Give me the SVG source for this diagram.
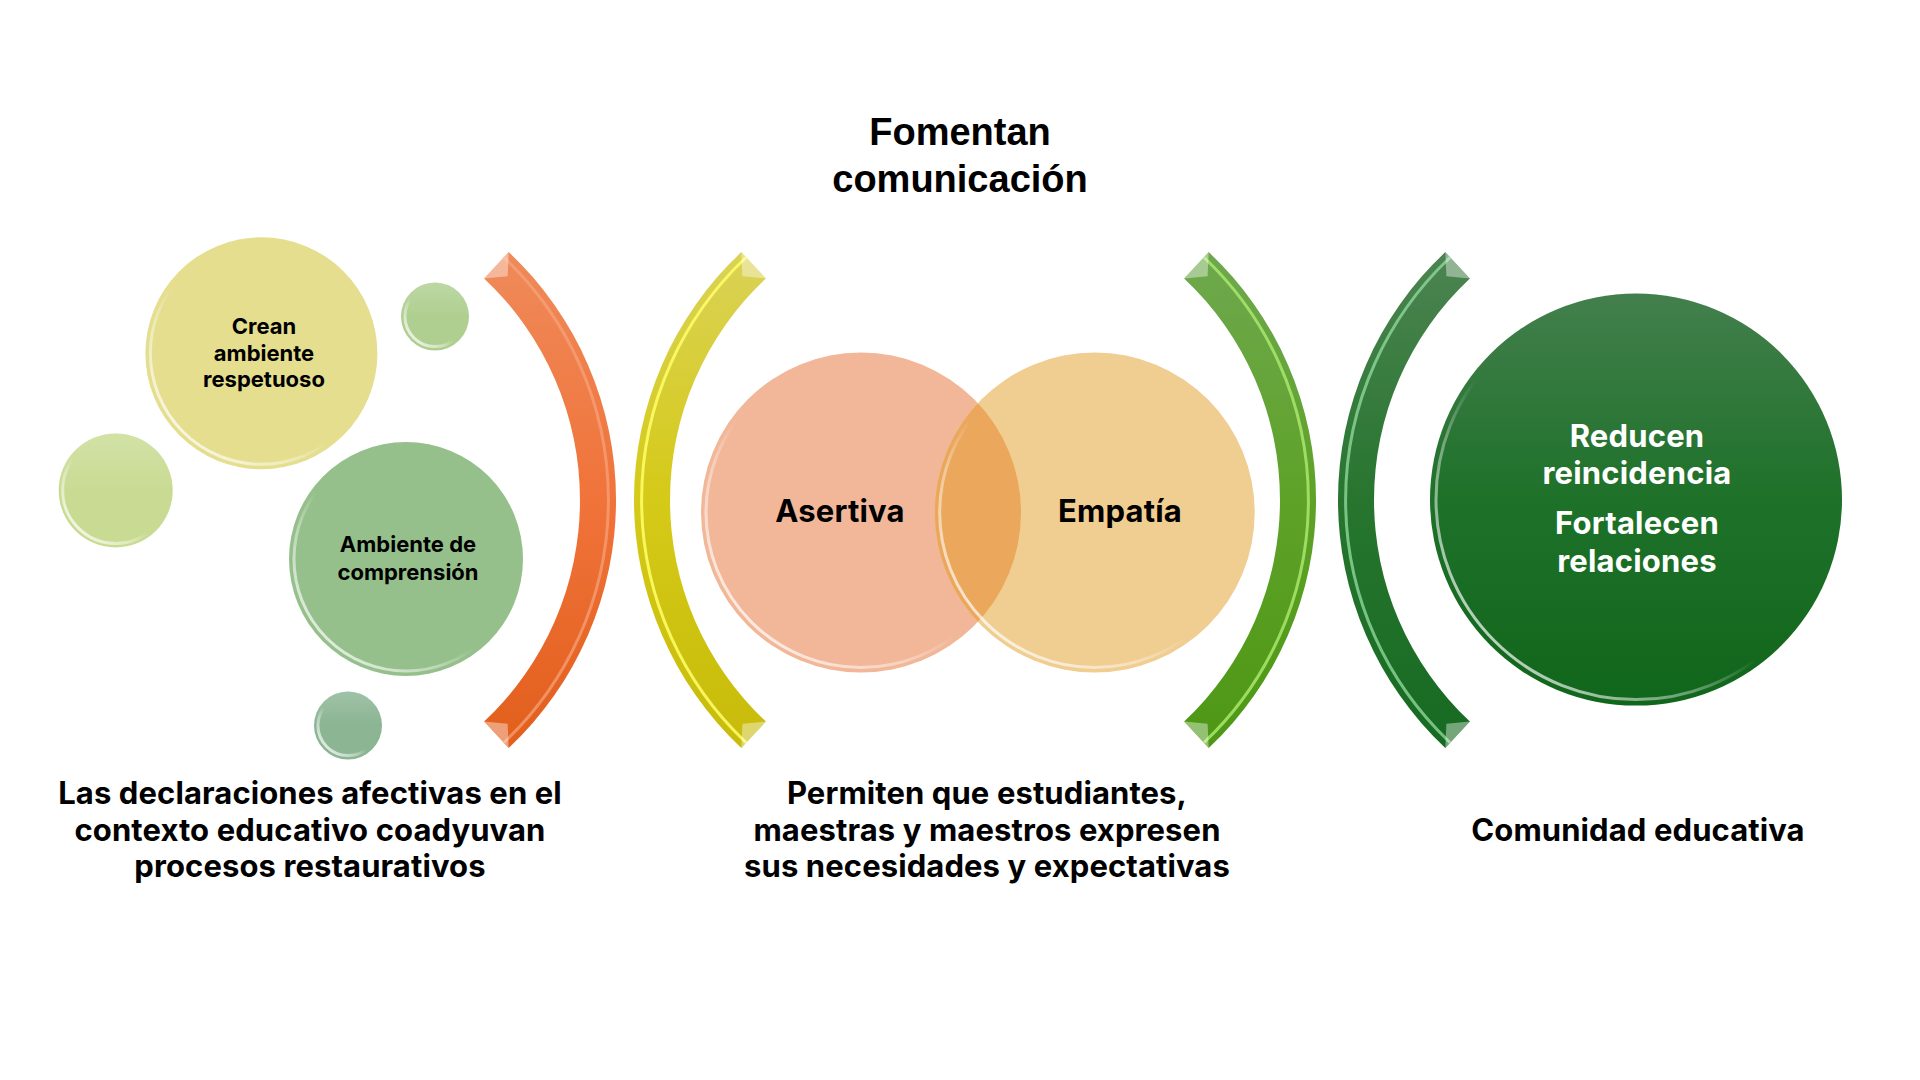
<svg xmlns="http://www.w3.org/2000/svg" width="1920" height="1080" viewBox="0 0 1920 1080">
  <defs>
    <style>
      .lbl { font-family: "Inter", "Liberation Sans", sans-serif; font-weight: 700; fill: #000; text-anchor: middle; }
      .title { font-family: "Liberation Sans", "Arial", sans-serif; font-weight: 700; font-size: 38px; fill: #000; text-anchor: middle; }
      .small { font-size: 22px; }
      .mid { font-size: 31px; letter-spacing: 0.2px; }
      .big { font-size: 31px; letter-spacing: 0.1px; }
      .white { fill: #fff; }
      .rim { fill: none; stroke: url(#rimGrad); stroke-width: 3; }
      .gloss { fill: url(#glossGrad); }
      .bevel { fill: #fff; opacity: 0.4; }
      .edge { fill: none; stroke-width: 3; stroke-linecap: round; }
    </style>
    <!-- soft white edge light on the lower-left of each bubble -->
    <linearGradient id="rimGrad" x1="0" y1="1" x2="0.75" y2="0.25">
      <stop offset="0" stop-color="#fff" stop-opacity="0.95"/>
      <stop offset="0.45" stop-color="#fff" stop-opacity="0.35"/>
      <stop offset="0.6" stop-color="#fff" stop-opacity="0"/>
    </linearGradient>
    <linearGradient id="glossGrad" x1="0" y1="0" x2="0" y2="1">
      <stop offset="0" stop-color="#fff" stop-opacity="0.18"/>
      <stop offset="0.5" stop-color="#fff" stop-opacity="0"/>
    </linearGradient>
    <linearGradient id="darkGreenFill" x1="0" y1="0" x2="0" y2="1">
      <stop offset="0" stop-color="#437F4D"/>
      <stop offset="0.5" stop-color="#1E7129"/>
      <stop offset="1" stop-color="#10661B"/>
    </linearGradient>
    <!-- bracket bands -->
    <linearGradient id="orangeBand" x1="0" y1="0" x2="0" y2="1">
      <stop offset="0" stop-color="#EF8A5A"/>
      <stop offset="0.5" stop-color="#F0733A"/>
      <stop offset="1" stop-color="#E25F1C"/>
    </linearGradient>
    <linearGradient id="yellowBand" x1="0" y1="0" x2="0" y2="1">
      <stop offset="0" stop-color="#DAD256"/>
      <stop offset="0.5" stop-color="#D5CA17"/>
      <stop offset="1" stop-color="#C8BB0B"/>
    </linearGradient>
    <linearGradient id="greenBand" x1="0" y1="0" x2="0" y2="1">
      <stop offset="0" stop-color="#6EA84E"/>
      <stop offset="0.5" stop-color="#5EA228"/>
      <stop offset="1" stop-color="#4E9715"/>
    </linearGradient>
    <linearGradient id="darkBand" x1="0" y1="0" x2="0" y2="1">
      <stop offset="0" stop-color="#4C8451"/>
      <stop offset="0.5" stop-color="#27752F"/>
      <stop offset="1" stop-color="#176A21"/>
    </linearGradient>
    <clipPath id="asertivaClip">
      <circle cx="861" cy="512.5" r="160"/>
    </clipPath>
  </defs>

  <rect width="1920" height="1080" fill="#fff"/>

  <!-- heading -->
  <g id="title">
    <text class="title" x="960" y="145">Fomentan</text>
    <text class="title" x="960" y="192">comunicación</text>
  </g>

  <!-- left cluster of bubbles -->
  <g id="bubble-top-right">
    <circle cx="435" cy="316.5" r="34" fill="#AFCF90"/>
    <circle cx="435" cy="316.5" r="34" class="gloss"/>
    <circle cx="435" cy="316.5" r="30" class="rim"/>
  </g>
  <g id="bubble-left">
    <circle cx="115.7" cy="490.4" r="57" fill="#C9DB93"/>
    <circle cx="115.7" cy="490.4" r="57" class="gloss"/>
    <circle cx="115.7" cy="490.4" r="53" class="rim"/>
  </g>
  <g id="bubble-bottom">
    <circle cx="348" cy="725.5" r="34" fill="#8BB593"/>
    <circle cx="348" cy="725.5" r="34" class="gloss"/>
    <circle cx="348" cy="725.5" r="30" class="rim"/>
  </g>
  <g id="node-crean">
    <circle cx="261.4" cy="353.3" r="116" fill="#E4DE8E"/>
    <circle cx="261.4" cy="353.3" r="111" class="rim"/>
    <text class="lbl small" x="264" y="334">Crean</text>
    <text class="lbl small" x="264" y="361">ambiente</text>
    <text class="lbl small" x="264" y="387">respetuoso</text>
  </g>
  <g id="node-ambiente">
    <circle cx="406" cy="559" r="117" fill="#95C08B"/>
    <circle cx="406" cy="559" r="112" class="rim"/>
    <text class="lbl small" x="408" y="552">Ambiente de</text>
    <text class="lbl small" x="408" y="580">comprensión</text>
  </g>

  <!-- bracket arcs -->
  <g id="connectors">
    <g id="bracket-orange">
      <path d="M508.7 252.1 A340 340 0 0 1 508.7 747.9 L484.1 721.6 A304 304 0 0 0 484.1 278.4 Z" fill="url(#orangeBand)"/>
      <path class="edge" d="M504.6 258 A334 334 0 0 1 504.6 742" stroke="#F6A47C" opacity="0.7"/>
      <path class="bevel" d="M508.7 252.1 L484.1 278.4 L507.6 276.3 Z"/>
      <path class="bevel" d="M508.7 747.9 L484.1 721.6 L507.6 723.7 Z"/>
    </g>
    <g id="bracket-yellow">
      <path d="M741.3 252.1 A340 340 0 0 0 741.3 747.9 L765.9 721.6 A304 304 0 0 1 765.9 278.4 Z" fill="url(#yellowBand)"/>
      <path class="edge" d="M745.4 258 A334 334 0 0 0 745.4 742" stroke="#FFFF6A" opacity="0.85"/>
      <path class="bevel" d="M741.3 252.1 L765.9 278.4 L742.4 276.3 Z"/>
      <path class="bevel" d="M741.3 747.9 L765.9 721.6 L742.4 723.7 Z"/>
    </g>
    <g id="bracket-green">
      <path d="M1208.7 252.1 A340 340 0 0 1 1208.7 747.9 L1184.1 721.6 A304 304 0 0 0 1184.1 278.4 Z" fill="url(#greenBand)"/>
      <path class="edge" d="M1204.6 258 A334 334 0 0 1 1204.6 742" stroke="#A9E86C" opacity="0.85"/>
      <path class="bevel" d="M1208.7 252.1 L1184.1 278.4 L1207.6 276.3 Z"/>
      <path class="bevel" d="M1208.7 747.9 L1184.1 721.6 L1207.6 723.7 Z"/>
    </g>
    <g id="bracket-dark">
      <path d="M1445.3 252.1 A340 340 0 0 0 1445.3 747.9 L1469.9 721.6 A304 304 0 0 1 1469.9 278.4 Z" fill="url(#darkBand)"/>
      <path class="edge" d="M1449.4 258 A334 334 0 0 0 1449.4 742" stroke="#8ED79A" opacity="0.8"/>
      <path class="bevel" d="M1445.3 252.1 L1469.9 278.4 L1446.4 276.3 Z"/>
      <path class="bevel" d="M1445.3 747.9 L1469.9 721.6 L1446.4 723.7 Z"/>
    </g>
  </g>

  <!-- overlapping pair -->
  <g id="node-asertiva">
    <circle cx="861" cy="512.5" r="160" fill="#F2B798"/>
    <circle cx="861" cy="512.5" r="155" class="rim"/>
  </g>
  <g id="node-empatia">
    <circle cx="1094.7" cy="512.5" r="160" fill="#F0CD90"/>
    <circle cx="1094.7" cy="512.5" r="160" fill="#EBA75C" clip-path="url(#asertivaClip)"/>
    <circle cx="1094.7" cy="512.5" r="155" class="rim"/>
    <text class="lbl mid" x="840" y="522">Asertiva</text>
    <text class="lbl mid" x="1120" y="522">Empatía</text>
  </g>

  <!-- outcome -->
  <g id="node-outcome">
    <circle cx="1636" cy="499.6" r="206" fill="url(#darkGreenFill)"/>
    <circle cx="1636" cy="499.6" r="200" class="rim"/>
    <text class="lbl mid white" x="1637" y="447">Reducen</text>
    <text class="lbl mid white" x="1637" y="484">reincidencia</text>
    <text class="lbl mid white" x="1637" y="534">Fortalecen</text>
    <text class="lbl mid white" x="1637" y="572">relaciones</text>
  </g>

  <!-- captions -->
  <g id="caption-left">
    <text class="lbl big" x="310" y="804">Las declaraciones afectivas en el</text>
    <text class="lbl big" x="310" y="841">contexto educativo coadyuvan</text>
    <text class="lbl big" x="310" y="877">procesos restaurativos</text>
  </g>
  <g id="caption-middle">
    <text class="lbl big" x="987" y="804">Permiten que estudiantes,</text>
    <text class="lbl big" x="987" y="841">maestras y maestros expresen</text>
    <text class="lbl big" x="987" y="877">sus necesidades y expectativas</text>
  </g>
  <g id="caption-right">
    <text class="lbl big" x="1638" y="841">Comunidad educativa</text>
  </g>
</svg>
